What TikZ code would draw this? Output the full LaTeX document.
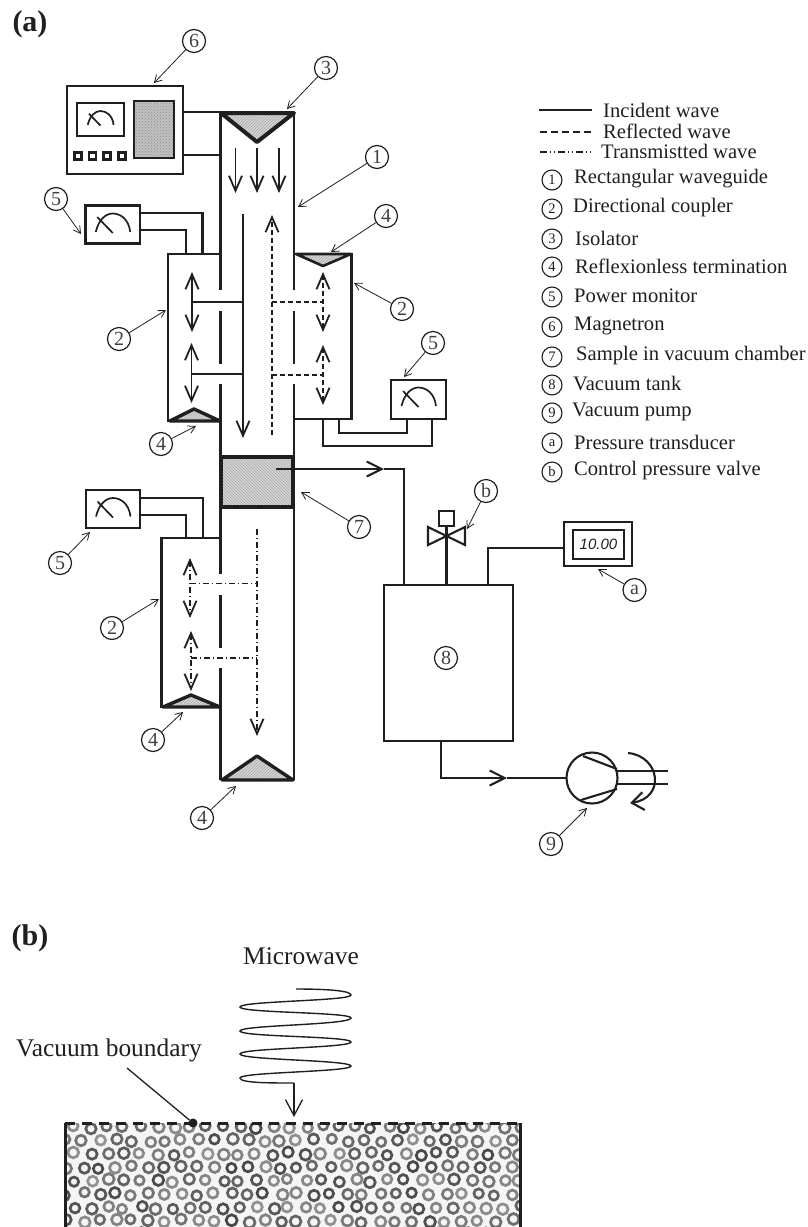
\documentclass[tikz,border=0pt]{standalone}
\usepackage{fontspec}
\setmainfont{Liberation Serif}
\setsansfont{Liberation Sans}
\usepackage{tikz}
\usetikzlibrary{positioning,shapes,arrows.meta,calc,patterns}
\definecolor{inkdark}{gray}{0.12}
\definecolor{hatchgray}{gray}{0.84}

\tikzset{
    dial/.pic={
        \draw[line width=1.7pt] (-17,6.5) .. controls (-14,-6) and (-7,-12) .. (0,-12) .. controls (8,-12) and (16,-6) .. (17.5,6.5);
        \draw[line width=1.7pt] (-15.5,-8.5) -- (0,7.5);
    }
}

\begin{document}
\begin{tikzpicture}[
    x=1pt, y=-1pt, color=inkdark,
    box/.style={rectangle, draw, line width=2.1pt, inner sep=0pt, outer sep=0pt},
    wall/.style={line width=2.2pt},
    wire/.style={line width=2.1pt},
    load/.style={draw, line width=3.4pt, line join=round, preaction={fill=hatchgray}, pattern=north east lines, pattern color=black!35},
    callout/.style={circle, draw, line width=1.2pt, minimum size=23pt, inner sep=0pt, font=\fontsize{20}{20}\selectfont, text=black!75},
    keymark/.style={circle, draw, line width=1.1pt, minimum size=20pt, inner sep=0pt, font=\fontsize{14.5}{14.5}\selectfont},
    keytext/.style={anchor=west, inner sep=0pt, font=\fontsize{20.6}{20.6}\selectfont},
    leader/.style={line width=.8pt, -{Straight Barb[length=7pt,width=8pt]}},
    wave/.style={line width=1.3pt, {Straight Barb[length=15pt,width=13pt,line width=1.8pt]}-{Straight Barb[length=15pt,width=13pt,line width=1.8pt]}},
    down/.style={line width=1.3pt, -{Straight Barb[length=15pt,width=13pt,line width=1.8pt]}},
    reflect/.style={dash pattern=on 5pt off 3pt},
    transmit/.style={dash pattern=on 6pt off 3pt on 1pt off 3pt}
]
    \useasboundingbox (0,0) rectangle (808,1227);

    \node[font=\fontsize{30}{30}\selectfont\bfseries, inner sep=0pt] (parta) at (30,24) {(a)};
    \node[font=\fontsize{30}{30}\selectfont\bfseries, inner sep=0pt] (partb) at (30,938) {(b)};

    % magnetron
    \node[box, minimum width=116pt, minimum height=88pt] (magnetron) at (125,130) {};
    \node[box, minimum width=47pt, minimum height=33pt] (meter) at (100.5,119.5) {};
    \pic[scale=.75] at (100.5,120) {dial};
    \node[box, line width=1.4pt, minimum width=40pt, minimum height=57pt, preaction={fill=hatchgray!90!black}, pattern=crosshatch dots, pattern color=black!45] (screen) at (154,129.5) {};
    \node[box, line width=2.6pt, minimum width=7pt, minimum height=7pt] (knoba) at (78,156) {};
    \node[box, line width=2.6pt, minimum width=7pt, minimum height=7pt] (knobb) at (92.5,156) {};
    \node[box, line width=2.6pt, minimum width=7pt, minimum height=7pt] (knobc) at (107,156) {};
    \node[box, line width=2.6pt, minimum width=7pt, minimum height=7pt] (knobd) at (122,156) {};

    % waveguide walls with the coupling slots
    \draw[wall] (220.5,113) -- (220.5,290);
    \draw[wall] (220.5,311) -- (220.5,364);
    \draw[wall] (220.5,384) -- (220.5,458);
    \draw[wall] (220.5,506) -- (220.5,574);
    \draw[wall] (220.5,595) -- (220.5,648);
    \draw[wall] (220.5,668) -- (220.5,780);
    \draw[wall] (294,113) -- (294,290);
    \draw[wall] (294,311) -- (294,364);
    \draw[wall] (294,384) -- (294,458);
    \draw[wall] (294,506) -- (294,780);

    % couplers
    \draw[wall] (220.5,254) -- (168,254) -- (168,421) -- (220.5,421);
    \draw[wall] (294,254) -- (351.5,254) -- (351.5,419) -- (294,419);
    \draw[wall] (220.5,538) -- (161.5,538) -- (161.5,707) -- (220.5,707);

    % isolator and terminations
    \draw[load, line width=4pt] (221,113) -- (294,113) -- (257,142) -- cycle;
    \draw[load, line width=2.6pt] (296,254) -- (351,254) -- (323,266) -- cycle;
    \draw[load] (170,421) -- (220,421) -- (194,409) -- cycle;
    \draw[load] (163,707) -- (220,707) -- (191,695) -- cycle;
    \draw[load] (222,780) -- (293,780) -- (257,756) -- cycle;

    \node[box, line width=4.4pt, minimum width=72pt, minimum height=50pt, preaction={fill=hatchgray}, pattern=north west lines, pattern color=black!35] (sample) at (257,482) {};

    % magnetron feed lines
    \coordinate (feeda) at (220.5,112);
    \coordinate (feedb) at (220.5,155);
    \draw[wire] (magnetron.east |- feeda) -- (feeda);
    \draw[wire] (magnetron.east |- feedb) -- (feedb);

    % monitors and their wires
    \node[box, minimum width=54.5pt, minimum height=38pt] (monitora) at (112.75,224.5) {};
    \pic at (112.75,225.5) {dial};
    \coordinate (cplaout) at (202.5,254);
    \coordinate (cplain) at (186,254);
    \draw[wire] ([yshift=-7.5pt]monitora.north east) -| (cplaout);
    \draw[wire] ([yshift=-24.5pt]monitora.north east) -| (cplain);

    \node[box, minimum width=55pt, minimum height=39pt] (monitorb) at (418.5,399.5) {};
    \pic at (418.5,399.5) {dial};
    \coordinate (cplbout) at (323,419);
    \coordinate (cplbin) at (339,419);
    \draw[wire] (cplbout) |- (432,446) -- (432,419);
    \draw[wire] (cplbin) |- (407,433) -- (407,419);

    \node[box, minimum width=54pt, minimum height=38pt] (monitorc) at (113,509) {};
    \pic at (113,510) {dial};
    \coordinate (cplcout) at (203,538);
    \coordinate (cplcin) at (186,538);
    \draw[wire] ([yshift=-8pt]monitorc.north east) -| (cplcout);
    \draw[wire] ([yshift=-25pt]monitorc.north east) -| (cplcin);

    % incident
    \draw[down] (235.5,148) -- (235.5,193);
    \draw[down] (257,148) -- (257,193);
    \draw[down] (279,148) -- (279,193);
    \draw[down] (243,214) -- (243,438);
    \draw[wave] (192,272) -- (192,332);
    \draw[wave] (191.5,343) -- (191.5,403);
    \draw[line width=1.3pt] (192,302) -- (243,302);
    \draw[line width=1.3pt] (191.5,374) -- (243,374);

    % reflected
    \draw[down, reflect] (272,435) -- (272,215);
    \draw[wave, reflect] (323,272) -- (323,332);
    \draw[wave, reflect] (323,345) -- (323,405);
    \draw[line width=1.3pt, reflect] (272,302) -- (323,302);
    \draw[line width=1.3pt, reflect] (272,375) -- (323,375);

    % transmitted
    \draw[down, transmit] (257,529) -- (257,736);
    \draw[wave, transmit] (190,558) -- (190,618);
    \draw[wave, transmit] (191,631) -- (191,691);
    \draw[line width=1.3pt, transmit] (190,583.5) -- (257,583.5);
    \draw[line width=1.3pt, transmit] (191,658) -- (257,658);

    % vacuum line
    \node[box, minimum width=129pt, minimum height=156pt] (tank) at (448.5,663) {};
    \node[box, minimum width=15pt, minimum height=15pt] (actuator) at (446.5,518.5) {};
    \draw[wire, line join=miter] (428,527) -- (465,545) -- (465,527) -- (428,545) -- cycle;
    \draw[wire] (tank.north -| actuator.south) -- (actuator.south);
    \node[box, minimum width=68pt, minimum height=44pt] (gauge) at (598,544) {};
    \node[box, line width=1.4pt, minimum width=51pt, minimum height=29pt, font=\sffamily\itshape\fontsize{15}{15}\selectfont] (display) at (598.5,544.5) {10.00};
    \coordinate (gaugebend) at (488,548);
    \draw[wire] (tank.north -| gaugebend) -- (gaugebend) -- (gaugebend -| gauge.west);

    \coordinate (sampleout) at (276,469);
    \coordinate (samplehead) at (384,469);
    \coordinate (tankin) at (404,585);
    \draw[wire, -{Straight Barb[length=15pt,width=15pt]}] (sampleout) -- (samplehead);
    \draw[wire] (samplehead) -| (tankin);

    \node[circle, draw, line width=2.1pt, minimum size=51pt, inner sep=0pt, outer sep=0pt] (pump) at (592,778) {};
    \coordinate (tankout) at (441,741);
    \coordinate (pumphead) at (507,778);
    \draw[wire, -{Straight Barb[length=15pt,width=15pt]}] (tankout) |- (pumphead);
    \draw[wire] (pumphead) -- (pump.west);
    \draw[wire] (583,756) -- (617,769);
    \draw[wire] (581,800) -- (617,789);
    \draw[wire] (617,771) -- (668,771);
    \draw[wire] (617,784) -- (668,784);
    \draw[wire, -{Straight Barb[length=12pt,width=18pt]}] (628,753) .. controls (660,756) and (666,798) .. (630,803);

    % callouts
    \node[callout] (one) at (377,157) {1};
    \draw[leader] (one) -- (298,207);
    \node[callout] (twoa) at (119,339) {2};
    \draw[leader] (twoa) -- (166,310);
    \node[callout] (twob) at (402,309) {2};
    \draw[leader] (twob) -- (354,283);
    \node[callout] (twoc) at (112,628) {2};
    \draw[leader] (twoc) -- (159,599);
    \node[callout] (three) at (326,68) {3};
    \draw[leader] (three) -- (287,109);
    \node[callout] (foura) at (386,216) {4};
    \draw[leader] (foura) -- (331,252);
    \node[callout] (fourb) at (161,444) {4};
    \draw[leader] (fourb) -- (196,426);
    \node[callout] (fourc) at (153,740) {4};
    \draw[leader] (fourc) -- (183,712);
    \node[callout] (fourd) at (202,818) {4};
    \draw[leader] (fourd) -- (236,786);
    \node[callout] (fivea) at (56,199) {5};
    \draw[leader] (fivea) -- (81,234);
    \node[callout] (fiveb) at (433,343) {5};
    \draw[leader] (fiveb) -- (404,377);
    \node[callout] (fivec) at (60,563) {5};
    \draw[leader] (fivec) -- (90,532);
    \node[callout] (six) at (194,41) {6};
    \draw[leader] (six) -- (154,83);
    \node[callout] (seven) at (359,527) {7};
    \draw[leader] (seven) -- (301,492);
    \node[callout] (eight) at (446,658) {8};
    \node[callout] (nine) at (551,844) {9};
    \draw[leader] (nine) -- (587,808);
    \node[callout] (gaugemark) at (634.5,590) {a};
    \draw[leader] (gaugemark) -- (598,569);
    \node[callout] (valvemark) at (486,491) {b};
    \draw[leader] (valvemark) -- (467,529);

    % legend
    \draw[line width=1.5pt] (539,110) -- (592,110);
    \draw[line width=1.5pt, dash pattern=on 7pt off 4pt] (540,132) -- (592,132);
    \draw[line width=1.3pt, dash pattern=on 7pt off 3pt on 1pt off 3pt on 1pt off 3pt] (540,152) -- (592,152);
    \node[keytext] (incident) at (603,110) {Incident wave};
    \node[keytext] (reflected) at (603,131) {Reflected wave};
    \node[keytext] (transmitted) at (601,151) {Transmistted wave};
    \node[keymark] (keya) at (552,180) {1};
    \node[keytext] at (574,179) {Rectangular waveguide};
    \node[keymark] (keyb) at (552,209) {2};
    \node[keytext] at (573,208) {Directional coupler};
    \node[keymark] (keyc) at (552,239) {3};
    \node[keytext] at (575,238) {Isolator};
    \node[keymark] (keyd) at (552,267) {4};
    \node[keytext] at (575,266) {Reflexionless termination};
    \node[keymark] (keye) at (552,297) {5};
    \node[keytext] at (574,296) {Power monitor};
    \node[keymark] (keyf) at (552,327) {6};
    \node[keytext] at (574,326) {Magnetron};
    \node[keymark] (keyg) at (552,357) {7};
    \node[keytext] at (576,356) {Sample in vacuum chamber};
    \node[keymark] (keyh) at (552,385) {8};
    \node[keytext] at (573,384) {Vacuum tank};
    \node[keymark] (keyi) at (552,413) {9};
    \node[keytext] at (572,412) {Vacuum pump};
    \node[keymark] (keyj) at (552,443) {a};
    \node[keytext] at (574,442) {Pressure transducer};
    \node[keymark] (keyk) at (552,472) {b};
    \node[keytext] at (574,471) {Control pressure valve};

    % part (b)
    \node[font=\fontsize{25.4}{25.4}\selectfont, inner sep=0pt] (microwave) at (301,956) {Microwave};
    \node[font=\fontsize{25.4}{25.4}\selectfont, inner sep=0pt] (boundary) at (109,1050) {Vacuum boundary};

    \begin{scope}
        \clip (65,1123) rectangle (521,1227);
        \fill[black!4] (65,1123) rectangle (521,1227);
        \pgfmathsetseed{4217}
        \foreach \row in {0,...,8} {
            \foreach \col in {0,...,28} {
                \pgfmathsetmacro{\ringx}{58+\col*16.5+mod(\row,2)*8.2+rand*2.2}
                \pgfmathsetmacro{\ringy}{1127+\row*13.4+rand*1.8}
                \pgfmathsetmacro{\ringr}{4.6+rnd*0.9}
                \pgfmathsetmacro{\ringk}{42+rnd*30}
                \draw[line width=2.7pt, draw=black!\ringk] (\ringx,\ringy) circle[radius=\ringr];
            }
        }
    \end{scope}
    \draw[line width=3pt] (65,1123) -- (65,1227);
    \draw[line width=3pt] (520.5,1123) -- (520.5,1227);
    \coordinate (surfacea) at (65,1123);
    \coordinate (surfaceb) at (521,1123);
    \draw[line width=3pt, draw=inkdark, dash pattern=on 10pt off 7pt] (surfacea) -- (surfaceb);
    \node[circle, fill, minimum size=9pt, inner sep=0pt] (contact) at (193,1123) {};
    \draw[line width=1.3pt] (127,1068) -- (contact);

    % microwave spiral
    \coordinate (spiralout) at (294,1083);
    \coordinate (spiraltip) at (294,1117);
    \draw[line width=1.4pt] (296,989) .. controls (330,989) and (351,991) .. (351,995)
        .. controls (351,1001) and (240,1001) .. (240,1007)
        .. controls (240,1013) and (351,1012) .. (351,1018)
        .. controls (351,1025) and (240,1025) .. (240,1031)
        .. controls (240,1037) and (351,1036) .. (351,1042)
        .. controls (351,1048) and (240,1048) .. (240,1054)
        .. controls (240,1060) and (351,1060) .. (351,1066)
        .. controls (351,1072) and (240,1072) .. (240,1078)
        .. controls (240,1083) and (270,1083) .. (spiralout);
    \draw[line width=1.3pt, -{Straight Barb[length=16pt,width=17pt,line width=1.3pt]}] (spiralout) -- (spiraltip);
\end{tikzpicture}
\end{document}
